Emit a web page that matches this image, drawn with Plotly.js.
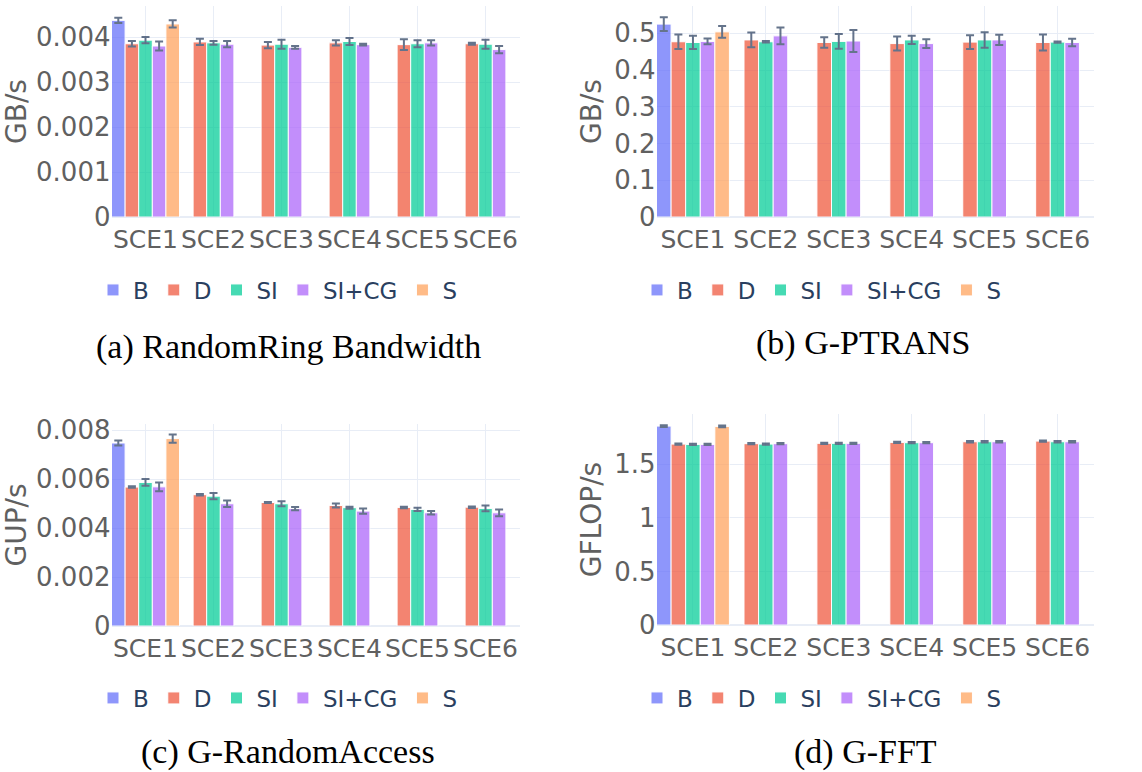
<!DOCTYPE html>
<html>
<head>
<meta charset="utf-8">
<script src="https://cdn.plot.ly/plotly-3.0.1.min.js"></script>
<style>
  html, body { margin: 0; padding: 0; background: #fff; }
  #chart { width: 1142px; height: 772px; }
</style>
</head>
<body>
<div id="chart"></div>
<script>
// Scenarios on the x axis and the five configurations compared
const categories = ['SCE1', 'SCE2', 'SCE3', 'SCE4', 'SCE5', 'SCE6'];
const seriesNames = ['B', 'D', 'SI', 'SI+CG', 'S'];
const seriesColors = ['#636efa', '#EF553B', '#00cc96', '#ab63fa', '#FFA15A'];

// (a) RandomRing Bandwidth, GB/s (B and S only run in SCE1)
const rrB = [0.00437];           const rrBErr = [0.00006];
const rrD = [0.00385, 0.00389, 0.00382, 0.00387, 0.00383, 0.00385];
const rrDErr = [0.00006, 0.00007, 0.00007, 0.00006, 0.00012, 0.00002];
const rrSI = [0.00393, 0.00387, 0.00384, 0.00390, 0.00385, 0.00384];
const rrSIErr = [0.00007, 0.00004, 0.00010, 0.00008, 0.00008, 0.00010];
const rrSICG = [0.00380, 0.00384, 0.00377, 0.00383, 0.00387, 0.00372];
const rrSICGErr = [0.00010, 0.00007, 0.00003, 0.00002, 0.00006, 0.00008];
const rrS = [0.00429];           const rrSErr = [0.00008];

// (b) G-PTRANS, GB/s
const ptB = [0.525];             const ptBErr = [0.019];
const ptD = [0.477, 0.482, 0.475, 0.472, 0.476, 0.475];
const ptDErr = [0.020, 0.020, 0.014, 0.019, 0.019, 0.022];
const ptSI = [0.475, 0.477, 0.478, 0.482, 0.482, 0.476];
const ptSIErr = [0.018, 0.002, 0.020, 0.011, 0.021, 0.002];
const ptSICG = [0.478, 0.493, 0.479, 0.472, 0.482, 0.475];
const ptSICGErr = [0.008, 0.023, 0.030, 0.012, 0.014, 0.010];
const ptS = [0.504];             const ptSErr = [0.016];

// (c) G-RandomAccess, GUP/s
const raB = [0.00747];           const raBErr = [0.00010];
const raD = [0.00567, 0.00536, 0.00504, 0.00492, 0.00484, 0.00485];
const raDErr = [0.00003, 0.00003, 0.00002, 0.00008, 0.00003, 0.00003];
const raSI = [0.00586, 0.00530, 0.00499, 0.00483, 0.00476, 0.00480];
const raSIErr = [0.00014, 0.00013, 0.00010, 0.00004, 0.00007, 0.00012];
const raSICG = [0.00568, 0.00499, 0.00479, 0.00469, 0.00462, 0.00462];
const raSICGErr = [0.00018, 0.00013, 0.00007, 0.00011, 0.00007, 0.00014];
const raS = [0.00765];           const raSErr = [0.00017];

// (d) G-FFT, GFLOP/s
const fftB = [1.857];            const fftBErr = [0.008];
const fftD = [1.689, 1.693, 1.696, 1.705, 1.711, 1.717];
const fftDErr = [0.006, 0.006, 0.006, 0.006, 0.006, 0.006];
const fftSI = [1.686, 1.689, 1.696, 1.702, 1.711, 1.711];
const fftSIErr = [0.006, 0.006, 0.006, 0.006, 0.006, 0.006];
const fftSICG = [1.686, 1.693, 1.696, 1.702, 1.711, 1.711];
const fftSICGErr = [0.006, 0.006, 0.006, 0.006, 0.006, 0.006];
const fftS = [1.854];            const fftSErr = [0.008];

// Panel definitions: which arrays go where
const panels = [
  { axis: '',  legend: 'legend',  title: 'GB/s',
    series: [[rrB, rrBErr], [rrD, rrDErr], [rrSI, rrSIErr], [rrSICG, rrSICGErr], [rrS, rrSErr]] },
  { axis: '2', legend: 'legend2', title: 'GB/s',
    series: [[ptB, ptBErr], [ptD, ptDErr], [ptSI, ptSIErr], [ptSICG, ptSICGErr], [ptS, ptSErr]] },
  { axis: '3', legend: 'legend3', title: 'GUP/s',
    series: [[raB, raBErr], [raD, raDErr], [raSI, raSIErr], [raSICG, raSICGErr], [raS, raSErr]] },
  { axis: '4', legend: 'legend4', title: 'GFLOP/s',
    series: [[fftB, fftBErr], [fftD, fftDErr], [fftSI, fftSIErr], [fftSICG, fftSICGErr], [fftS, fftSErr]] }
];

const traces = [];
panels.forEach(p => {
  p.series.forEach(([vals, errs], i) => {
    traces.push({
      type: 'bar',
      name: seriesNames[i],
      x: categories.slice(0, vals.length),
      y: vals,
      xaxis: 'x' + p.axis,
      yaxis: 'y' + p.axis,
      legend: p.legend,
      opacity: 0.72,
      marker: { color: seriesColors[i], line: { color: '#ffffff', width: 1 } },
      error_y: { type: 'data', array: errs, visible: true, color: '#2a3f5f', thickness: 2, width: 4 }
    });
  });
});

const W = 1142, H = 772;
const px = v => v / W;
const py = v => 1 - v / H;

const xTickFont = { family: 'DejaVu Sans, Verdana, sans-serif', size: 25, color: '#606060' };
const yTickFont = { family: 'DejaVu Sans, Verdana, sans-serif', size: 26, color: '#606060' };
const titleFont = { family: 'DejaVu Sans, Verdana, sans-serif', size: 28, color: '#606060' };
const legendFont = { family: 'DejaVu Sans, Verdana, sans-serif', size: 23, color: '#2a3f5f' };
const captionFont = { family: 'Liberation Serif, Times New Roman, serif', size: 34, color: '#000000' };

function xAxis(domain, anchor) {
  return {
    domain: domain, anchor: anchor, type: 'category',
    categoryorder: 'array', categoryarray: categories,
    range: [-0.5, 5.5], showgrid: true, gridcolor: '#E8EDF6', gridwidth: 1,
    showline: false, zeroline: false, ticks: '', tickfont: xTickFont, tickangle: 0,
    ticklabelstandoff: 5, fixedrange: true
  };
}
function yAxis(domain, anchor, range, dtick, title) {
  return {
    domain: domain, anchor: anchor, range: range, dtick: dtick, tick0: 0,
    showgrid: true, gridcolor: '#E8EDF6', gridwidth: 1,
    zeroline: true, zerolinecolor: '#E8EDF6', zerolinewidth: 2,
    showline: false, ticks: '', tickfont: yTickFont,
    title: { text: title, font: titleFont, standoff: 4 }, fixedrange: true
  };
}

function legendAt(xLeft, yMid) {
  return {
    orientation: 'h', x: px(xLeft), y: py(yMid), xanchor: 'left', yanchor: 'middle',
    font: legendFont, bgcolor: 'rgba(0,0,0,0)', itemclick: false, itemdoubleclick: false
  };
}

const xLeft = [px(111.5), px(519.5)];
const xRight = [px(656.5), px(1094)];

const layout = {
  width: W, height: H,
  margin: { l: 0, r: 0, t: 0, b: 0 },
  paper_bgcolor: '#ffffff', plot_bgcolor: '#ffffff',
  barmode: 'group', bargap: 0, bargroupgap: 0,
  font: { family: 'DejaVu Sans, Verdana, sans-serif', color: '#2a3f5f' },
  showlegend: true,
  xaxis:  xAxis(xLeft, 'y'),
  yaxis:  yAxis([py(217), py(6)], 'x', [0, 0.004689], 0.001, panels[0].title),
  xaxis2: xAxis(xRight, 'y2'),
  yaxis2: yAxis([py(217), py(6)], 'x2', [0, 0.5743], 0.1, panels[1].title),
  xaxis3: xAxis(xLeft, 'y3'),
  yaxis3: yAxis([py(626), py(424)], 'x3', [0, 0.008245], 0.002, panels[2].title),
  xaxis4: xAxis(xRight, 'y4'),
  yaxis4: yAxis([py(625), py(414)], 'x4', [0, 1.970], 0.5, panels[3].title),
  legend:  legendAt(93, 290),
  legend2: legendAt(637, 290),
  legend3: legendAt(93, 698),
  legend4: legendAt(637, 698),
  annotations: [
    { text: '(a) RandomRing Bandwidth', x: px(288), y: py(347), xref: 'paper', yref: 'paper',
      xanchor: 'center', yanchor: 'middle', showarrow: false, font: captionFont },
    { text: '(b) G-PTRANS', x: px(863), y: py(343), xref: 'paper', yref: 'paper',
      xanchor: 'center', yanchor: 'middle', showarrow: false, font: captionFont },
    { text: '(c) G-RandomAccess', x: px(288), y: py(752), xref: 'paper', yref: 'paper',
      xanchor: 'center', yanchor: 'middle', showarrow: false, font: captionFont },
    { text: '(d) G-FFT', x: px(865), y: py(752), xref: 'paper', yref: 'paper',
      xanchor: 'center', yanchor: 'middle', showarrow: false, font: captionFont }
  ]
};

Plotly.newPlot('chart', traces, layout, { displayModeBar: false, staticPlot: true });
</script>
</body>
</html>
